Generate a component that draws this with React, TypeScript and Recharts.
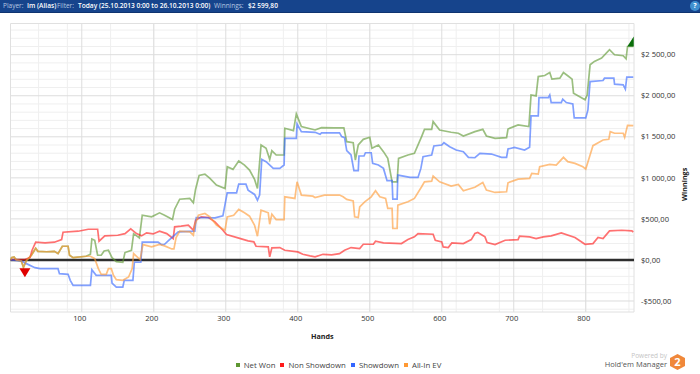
import React from "react";
import {
  LineChart,
  Line,
  CartesianGrid,
  XAxis,
  YAxis,
  Legend,
  ReferenceLine,
  ReferenceArea,
  ReferenceDot,
} from "recharts";

// [hand, winnings]
const netWon: [number, number][] = [
  [1, 0], [2, 28], [6, 37], [9, 0], [16, -12], [19, -90], [23, -10], [30, 57], [36, 142], [39, 105],
  [51, 100], [62, 105], [67, 77], [73, 167], [81, 167], [83, 57], [88, 28], [106, 45], [112, 69], [114, 256],
  [118, 240], [122, 57], [127, 57], [131, 110], [137, 118], [142, 28], [148, -20], [157, -28], [160, 90], [169, 118],
  [172, 320], [180, 268], [184, 545], [197, 525], [208, 574], [215, 545], [226, 492], [229, 618], [236, 740], [250, 749],
  [255, 696], [258, 859], [263, 1030], [271, 1046], [278, 993], [287, 912], [299, 871], [302, 1135], [310, 1103], [318, 1205],
  [326, 1156], [333, 1095], [340, 981], [344, 871], [349, 1400], [356, 1360], [361, 1225], [364, 1331], [370, 1278], [381, 1278],
  [382, 1604], [394, 1575], [398, 1779], [405, 1624], [424, 1583], [433, 1612], [451, 1608], [464, 1608], [468, 1441], [477, 1428],
  [480, 1217], [484, 1400], [491, 1469], [500, 1494], [503, 1360], [512, 1400], [519, 1319], [525, 1237], [531, 952], [538, 952],
  [540, 1237], [553, 1278], [562, 1298], [572, 1502], [576, 1591], [586, 1591], [588, 1685], [597, 1583], [613, 1555], [623, 1543],
  [630, 1510], [646, 1563], [657, 1591], [662, 1510], [674, 1481], [690, 1490], [692, 1595], [706, 1644], [721, 1624], [724, 2010],
  [731, 1998], [734, 2234], [743, 2247], [750, 2283], [753, 2202], [764, 2214], [769, 2283], [775, 2243], [781, 2202], [783, 2031],
  [799, 1950], [802, 2010], [806, 2377], [812, 2418], [822, 2458], [833, 2560], [840, 2499], [852, 2487], [856, 2450], [858, 2600],
  [866, 2600],
];

const nonShowdown: [number, number][] = [
  [1, 0], [2, 4], [21, 4], [28, 28], [31, 118], [36, 216], [49, 208], [62, 216], [72, 248], [74, 338],
  [95, 350], [109, 374], [122, 374], [124, 228], [132, 293], [150, 301], [160, 321], [168, 378], [176, 321], [183, 293],
  [190, 330], [199, 317], [208, 350], [218, 321], [227, 260], [229, 403], [238, 411], [248, 423], [255, 362], [258, 484],
  [266, 525], [276, 517], [285, 464], [296, 362], [301, 309], [317, 269], [331, 232], [339, 220], [342, 167], [359, 159],
  [361, 37], [364, 147], [375, 151], [382, 118], [400, 98], [407, 69], [417, 49], [424, 37], [435, 69], [447, 61],
  [458, 77], [465, 118], [474, 151], [486, 138], [491, 191], [505, 191], [508, 228], [519, 208], [544, 200], [553, 248],
  [562, 281], [567, 321], [588, 313], [591, 240], [600, 220], [602, 159], [609, 151], [614, 208], [630, 200], [641, 248],
  [646, 322], [650, 334], [660, 281], [663, 212], [674, 187], [688, 240], [706, 248], [708, 289], [722, 281], [731, 260],
  [741, 281], [752, 293], [766, 330], [785, 273], [799, 191], [810, 199], [817, 273], [824, 260], [833, 354], [850, 362],
  [864, 354], [866, 340],
];

const showdown: [number, number][] = [
  [1, 0], [16, -12], [23, -45], [35, -94], [42, -106], [67, -106], [69, -167], [81, -175], [84, -248], [88, -309],
  [112, -309], [114, -118], [120, -187], [141, -187], [142, -281], [148, -330], [157, -330], [159, -248], [171, -248], [173, -28],
  [182, -28], [184, 216], [206, 216], [211, 187], [215, 191], [220, 232], [234, 342], [257, 350], [259, 517], [285, 513],
  [296, 537], [302, 818], [315, 818], [318, 924], [328, 924], [331, 851], [340, 798], [344, 728], [347, 790], [350, 1225],
  [356, 1197], [366, 1115], [375, 1115], [381, 1156], [382, 1481], [398, 1481], [399, 1656], [405, 1563], [424, 1555], [431, 1530],
  [433, 1547], [458, 1547], [461, 1502], [465, 1490], [468, 1331], [474, 1278], [478, 1087], [484, 1087], [485, 1266], [492, 1266],
  [494, 1306], [502, 1306], [504, 1176], [512, 1156], [519, 1115], [524, 965], [531, 965], [532, 741], [538, 741], [539, 1034],
  [556, 1005], [567, 1005], [571, 1115], [574, 1258], [586, 1278], [589, 1388], [600, 1400], [603, 1428], [611, 1380], [620, 1339],
  [630, 1319], [637, 1250], [646, 1245], [653, 1298], [669, 1290], [683, 1250], [690, 1250], [692, 1351], [701, 1372], [715, 1339],
  [722, 1372], [724, 1754], [734, 1754], [735, 1978], [748, 1978], [750, 2010], [752, 1917], [766, 1917], [768, 1958], [773, 1917],
  [782, 1900], [784, 1730], [800, 1730], [803, 1827], [806, 2173], [824, 2186], [826, 2214], [839, 2214], [840, 2141], [852, 2133],
  [855, 2080], [857, 2226], [866, 2226],
];

const allInEv: [number, number][] = [
  [1, 0], [2, 28], [6, 37], [9, 0], [16, -12], [19, -90], [23, -10], [30, 57], [36, 142], [39, 105],
  [51, 100], [62, 105], [67, 77], [73, 167], [81, 167], [83, 57], [88, 28], [106, 45], [112, 45], [118, 16],
  [123, -106], [127, -175], [134, -175], [137, -106], [141, -106], [144, -187], [148, -240], [157, -248], [165, -208], [170, -106],
  [172, 77], [181, 4], [183, 98], [185, 187], [197, 159], [208, 190], [215, 171], [225, 134], [228, 134], [231, 273],
  [236, 350], [250, 342], [255, 301], [257, 423], [262, 545], [271, 566], [278, 525], [287, 423], [299, 362], [302, 525],
  [311, 545], [318, 615], [326, 574], [333, 533], [340, 423], [344, 289], [349, 606], [359, 574], [361, 435], [364, 558],
  [370, 492], [381, 492], [382, 769], [396, 749], [399, 952], [405, 790], [421, 777], [424, 761], [437, 790], [458, 790],
  [463, 769], [468, 737], [477, 720], [479, 525], [484, 517], [486, 647], [493, 708], [502, 769], [508, 842], [514, 769],
  [522, 749], [525, 627], [531, 627], [532, 383], [538, 383], [539, 667], [553, 708], [562, 749], [572, 891], [576, 952],
  [586, 960], [588, 1022], [597, 952], [613, 899], [623, 920], [630, 842], [646, 885], [657, 944], [662, 851], [674, 822],
  [690, 830], [692, 940], [706, 985], [722, 993], [725, 1054], [734, 1046], [736, 1135], [750, 1164], [759, 1156], [769, 1250],
  [775, 1197], [785, 1176], [796, 1135], [800, 1107], [806, 1278], [810, 1392], [824, 1461], [832, 1469], [834, 1563], [840, 1543],
  [852, 1543], [854, 1494], [858, 1640], [866, 1635],
];

const seriesNames = ["Net Won", "Non Showdown", "Showdown", "All-In EV"];
const seriesData = [netWon, nonShowdown, showdown, allInEv];
const seriesColors = ["#5e9732", "#ff1a1a", "#3366ff", "#ff9933"];

const handTicks = [100, 200, 300, 400, 500, 600, 700, 800];
const winTicks = [-500, 0, 500, 1000, 1500, 2000, 2500];
const winTickLabels = ["-$500,00", "$0,00", "$500,00", "$1 000,00", "$1 500,00", "$2 000,00", "$2 500,00"];

const minorHands: number[] = [];
for (let h = 20; h <= 860; h += 20) minorHands.push(h);
const minorWins: number[] = [];
for (let w = -600; w <= 2800; w += 100) minorWins.push(w);

const FONT = "'Open Sans', sans-serif";

function toRows(points: [number, number][]) {
  return points.map(([hand, value]) => ({ hand, value }));
}

function DownMarker(props: any) {
  const { cx, cy } = props;
  return <polygon points={`${cx - 5.5},${cy} ${cx + 5.5},${cy} ${cx},${cy + 9}`} fill="#e00000" />;
}

function UpMarker(props: any) {
  const { cx, cy } = props;
  return <polygon points={`${cx - 6},${cy} ${cx + 0.5},${cy - 10} ${cx + 0.5},${cy}`} fill="#0a6e0a" />;
}

function LegendRow() {
  return (
    <div style={{ display: "flex", justifyContent: "center", fontFamily: FONT, fontSize: 7.8, color: "#444", lineHeight: "18px" }}>
      {seriesNames.map((name, i) => (
        <span key={name} style={{ display: "inline-flex", alignItems: "center", marginRight: 5 }}>
          <span style={{ width: 4, height: 4, background: seriesColors[i], marginRight: 4 }} />
          {name}
        </span>
      ))}
    </div>
  );
}

function Header() {
  const label = { position: "absolute" as const, top: 0, lineHeight: "12px", whiteSpace: "nowrap" as const };
  const value = { ...label, color: "#fff", fontWeight: 600, fontSize: 6.6 };
  return (
    <div style={{ position: "absolute", left: 0, top: 0, width: 700, height: 12, background: "#16448c", borderBottom: "1px solid #0f3470", fontFamily: FONT, fontSize: 6.5, color: "#b9c9e2" }}>
      <span style={{ ...label, left: 3 }}>Player:</span>
      <span style={{ ...value, left: 27 }}>Im (Alias)</span>
      <span style={{ ...label, left: 57 }}>Filter:</span>
      <span style={{ ...value, left: 78 }}>Today (25.10.2013 0:00 to 26.10.2013 0:00)</span>
      <span style={{ ...label, left: 214 }}>Winnings:</span>
      <span style={{ ...value, left: 248 }}>$2 599,80</span>
      <span style={{ position: "absolute", left: 690, top: 1, width: 10, height: 10, borderRadius: 5, background: "#3f8fd0", color: "#fff", fontWeight: 700, fontSize: 7, lineHeight: "10px", textAlign: "center" }}>?</span>
    </div>
  );
}

function Branding() {
  return (
    <div style={{ position: "absolute", left: 560, top: 350, width: 140, height: 24, fontFamily: FONT }}>
      <span style={{ position: "absolute", right: 33, top: 1, fontSize: 6.5, lineHeight: "10px", color: "#c4c4c4" }}>Powered by</span>
      <span style={{ position: "absolute", right: 33, top: 9, fontSize: 7.5, lineHeight: "11px", color: "#555", whiteSpace: "nowrap" }}>Hold'em Manager</span>
      <svg style={{ position: "absolute", left: 109, top: 3 }} width="17" height="18" viewBox="0 0 17 18">
        <polygon points="8.5,1 16,5 16,13 8.5,17 1,13 1,5" fill="#f0883a" />
        <text x="8.5" y="13" textAnchor="middle" fontSize="11" fontWeight="700" fill="#fff" fontFamily={FONT}>2</text>
      </svg>
    </div>
  );
}

export default function App() {
  return (
    <div style={{ position: "absolute", left: 0, top: 0, width: 700, height: 374, background: "#fff", overflow: "hidden" }}>
      <Header />
      <LineChart
        width={700}
        height={374}
        margin={{ top: 23.5, right: 0, bottom: 14, left: 10.5 }}
        style={{ fontFamily: FONT }}
      >
        <ReferenceArea x1={1} x2={867} y1={-634} y2={2880} fill="none" stroke="#e0e0e0" />
        <CartesianGrid stroke="#efefef" strokeWidth={1} verticalValues={minorHands} horizontalValues={minorWins} />
        <CartesianGrid stroke="#dddddd" strokeWidth={1} verticalValues={handTicks} horizontalValues={winTicks} />
        <XAxis
          type="number"
          dataKey="hand"
          domain={[1, 867]}
          ticks={handTicks}
          height={30}
          axisLine={false}
          tickLine={false}
          tickSize={0}
          tickMargin={4}
          allowDataOverflow
          tick={{ fontSize: 7.6, fill: "#333", dx: -2 }}
          label={{ value: "Hands", position: "insideBottom", offset: 3, fontSize: 7.2, fontWeight: 700, fill: "#222" }}
        />
        <YAxis
          orientation="right"
          type="number"
          domain={[-634, 2880]}
          ticks={winTicks}
          width={66}
          axisLine={false}
          tickLine={false}
          tickSize={0}
          tickMargin={7}
          allowDataOverflow
          tick={{ fontSize: 7.6, fill: "#333", textAnchor: "start" }}
          tickFormatter={(v: number) => winTickLabels[winTicks.indexOf(v)]}
          label={{ value: "Winnings", angle: -90, position: "insideRight", offset: 16, fontSize: 7.2, fontWeight: 700, fill: "#222" }}
        />
        <Legend
          verticalAlign="bottom"
          height={18}
          wrapperStyle={{ left: 0, width: 682, bottom: 0 }}
          content={<LegendRow />}
        />
        <ReferenceLine y={0} stroke="#2e2e2e" strokeWidth={2.4} />
        {seriesNames.map((name, i) => (
          <Line
            key={name}
            name={name}
            data={toRows(seriesData[i])}
            dataKey="value"
            type="linear"
            stroke={seriesColors[i]}
            strokeOpacity={0.62}
            strokeWidth={1.7}
            dot={false}
            isAnimationActive={false}
          />
        ))}
        <ReferenceDot x={21} y={-100} shape={<DownMarker />} />
        <ReferenceDot x={866} y={2600} shape={<UpMarker />} />
      </LineChart>
      <Branding />
    </div>
  );
}
